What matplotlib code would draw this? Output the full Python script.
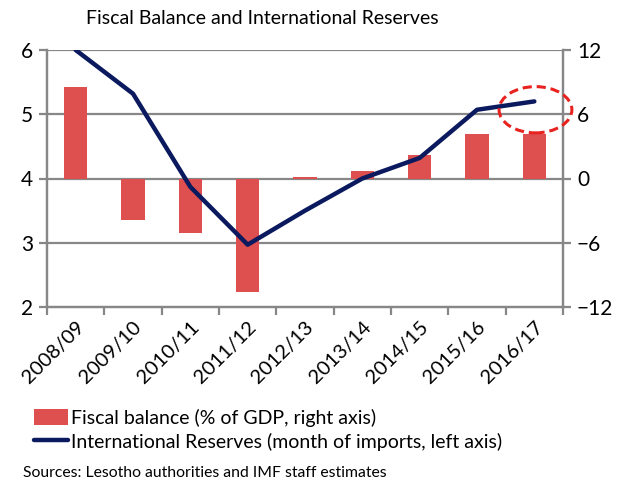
import matplotlib
matplotlib.use("Agg")
import matplotlib.pyplot as plt
from matplotlib.patches import Ellipse
import numpy as np

plt.rcParams['font.family'] = ['Lato', 'DejaVu Sans']

years = ["2008/09", "2009/10", "2010/11", "2011/12", "2012/13",
         "2013/14", "2014/15", "2015/16", "2016/17"]
fiscal_balance = [8.55, -3.9, -5.1, -10.6, 0.15, 0.7, 2.15, 4.2, 4.2]
reserves = [6.0, 5.32, 3.87, 2.97, 3.5, 4.0, 4.32, 5.07, 5.2]

bar_color = "#DE4F4F"
line_color = "#0B1A5E"
grid_color = "#878787"

fig = plt.figure(figsize=(6.3, 4.82), dpi=100)
ax = fig.add_axes([47/630, 1-307/482, (563-47)/630, (307-50)/482])
ax2 = ax.twinx()

x = np.arange(len(years))

# Bars on the right axis, drawn underneath the line
ax2.bar(x, fiscal_balance, width=0.41, color=bar_color, zorder=2,
        label="Fiscal balance (% of GDP, right axis)")
ax2.set_ylim(-12, 12)
ax2.set_yticks([-12, -6, 0, 6, 12])

ax.set_zorder(ax2.get_zorder() + 1)
ax.patch.set_visible(False)
ax.plot(x, reserves, color=line_color, lw=3.2, zorder=5,
        solid_capstyle='round',
        label="International Reserves (month of imports, left axis)")
ax.set_ylim(2, 6)
ax.set_yticks([2, 3, 4, 5, 6])
ax.set_xlim(-0.5, len(years) - 0.5)

# Horizontal gridlines from the left axis
for v in [3, 4, 5, 6]:
    ax2.axhline((v - 4) * 6, color=grid_color, lw=1.6, zorder=1)

# Category boundaries get ticks; labels sit at category centres
ax.set_xticks(np.arange(-0.5, len(years)))
ax.set_xticklabels([])
ax.set_xticks(x, minor=True)
ax.set_xticklabels(years, minor=True, rotation=45, ha='right',
                   rotation_mode='anchor', fontsize=14.5)
ax.tick_params(axis='x', which='major', length=6, width=1.6, color=grid_color)
ax.tick_params(axis='x', which='minor', length=0, pad=8)
ax.tick_params(axis='y', length=6, width=1.6, color=grid_color,
               labelsize=15, pad=4)
ax2.tick_params(axis='y', length=6, width=1.6, color=grid_color,
                labelsize=15, pad=4)

for a in (ax, ax2):
    a.spines['top'].set_visible(False)
    for side in ('left', 'right', 'bottom'):
        a.spines[side].set_color(grid_color)
        a.spines[side].set_linewidth(1.6)

# Dashed highlight around the latest estimate
ell = Ellipse((8.02, 5.07), width=1.27, height=0.72, fill=False,
              edgecolor="#E8231F", lw=2.2, ls=(0, (3, 1.6)),
              clip_on=False, zorder=6)
ax.add_patch(ell)

fig.text(262/630, 1-19/482, "Fiscal Balance and International Reserves",
         ha='center', va='center', fontsize=14)

h1, l1 = ax2.get_legend_handles_labels()
h2, l2 = ax.get_legend_handles_labels()
fig.legend(h1 + h2, l1 + l2, loc='upper left',
           bbox_to_anchor=(26/630, 1-401/482), frameon=False,
           fontsize=14, handlelength=1.75, handleheight=0.9,
           handletextpad=0.15, labelspacing=0.3, borderaxespad=0)

fig.text(23/630, 1-473/482, "Sources: Lesotho authorities and IMF staff estimates",
         ha='left', va='center', fontsize=11.3)

fig.savefig("out.png", dpi=100)
